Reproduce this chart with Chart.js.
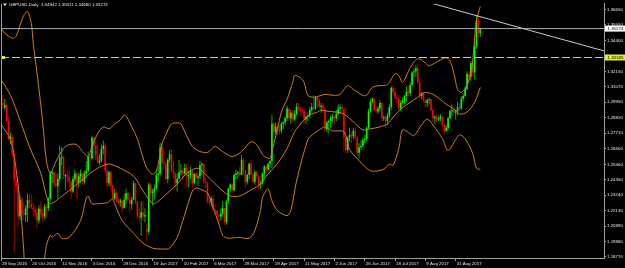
<!DOCTYPE html>
<html>
<head>
<meta charset="utf-8">
<script src="https://cdn.jsdelivr.net/npm/chart.js@4.4.1/dist/chart.umd.min.js"></script>
<style>
  html, body { margin: 0; padding: 0; background: #000; }
  canvas { display: block; }
</style>
</head>
<body>
<canvas id="chart" width="625" height="268"></canvas>
<script>
// GBPUSD daily bars, 28 Sep 2016 .. 19 Sep 2017 (bar index = position in arrays)
const opens = [
  1.3000,1.2990,1.2955,1.2975,1.2860,1.2730,1.2745,1.2620,1.2430,1.2390,
  1.2170,1.2290,1.2190,1.2180,1.2230,1.2290,1.2260,1.2235,1.2220,1.2200,
  1.2140,1.2225,1.2190,1.2170,1.2240,1.2230,1.2300,1.2480,1.2490,1.2410,
  1.2390,1.2440,1.2590,1.2600,1.2460,1.2470,1.2455,1.2420,1.2350,1.2440,
  1.2480,1.2410,1.2460,1.2480,1.2420,1.2480,1.2500,1.2600,1.2590,1.2740,
  1.2680,1.2610,1.2560,1.2570,1.2660,1.2680,1.2500,1.2410,1.2490,1.2390,
  1.2300,1.2340,1.2280,1.2270,1.2285,1.2230,1.2290,1.2340,1.2290,1.2260,
  1.2290,1.2410,1.2280,1.2170,1.2160,1.2200,1.2170,1.2080,1.2060,1.2400,
  1.2340,1.2350,1.2370,1.2470,1.2480,1.2670,1.2560,1.2550,1.2440,1.2580,
  1.2620,1.2500,1.2480,1.2410,1.2440,1.2490,1.2500,1.2480,1.2520,1.2460,
  1.2470,1.2500,1.2410,1.2480,1.2450,1.2460,1.2540,1.2550,1.2420,1.2410,
  1.2280,1.2270,1.2300,1.2220,1.2210,1.2180,1.2170,1.2190,1.2230,1.2130,
  1.2280,1.2370,1.2400,1.2360,1.2470,1.2480,1.2490,1.2470,1.2580,1.2500,
  1.2420,1.2470,1.2550,1.2475,1.2420,1.2490,1.2460,1.2400,1.2410,1.2480,
  1.2530,1.2510,1.2550,1.2570,1.2840,1.2780,1.2820,1.2800,1.2790,1.2840,
  1.2850,1.2880,1.2950,1.2880,1.2920,1.2870,1.2910,1.2960,1.2950,1.2940,
  1.2930,1.2870,1.2890,1.2900,1.2940,1.2960,1.2950,1.3030,1.3010,1.2960,
  1.2970,1.2950,1.2800,1.2850,1.2860,1.2880,1.2890,1.2880,1.2910,1.2950,
  1.2960,1.2950,1.2740,1.2650,1.2740,1.2760,1.2750,1.2790,1.2740,1.2630,
  1.2670,1.2680,1.2720,1.2730,1.2810,1.2930,1.3000,1.3020,1.2940,1.2930,
  1.2950,1.2990,1.2880,1.2885,1.2860,1.2900,1.2960,1.3100,1.3070,1.3030,
  1.3020,1.2950,1.2990,1.3010,1.3040,1.3070,1.3060,1.3120,1.3210,1.3220,
  1.3240,1.3140,1.3040,1.3060,1.3010,1.2990,1.3010,1.3015,1.2940,1.2880,
  1.2890,1.2870,1.2880,1.2890,1.2830,1.2790,1.2810,1.2880,1.2930,1.2940,
  1.2920,1.2930,1.2960,1.2950,1.3020,1.3040,1.3090,1.3200,1.3180,1.3280,
  1.3210,1.3400,1.3590,1.34942
];
const highs = [
  1.3055,1.3050,1.3020,1.2985,1.2880,1.2775,1.2760,1.2630,1.2480,1.2400,
  1.2320,1.2310,1.2270,1.2250,1.2335,1.2335,1.2330,1.2270,1.2255,1.2230,
  1.2250,1.2280,1.2225,1.2260,1.2260,1.2310,1.2500,1.2500,1.2490,1.2480,
  1.2480,1.2680,1.2670,1.2610,1.2480,1.2500,1.2500,1.2430,1.2460,1.2510,
  1.2490,1.2480,1.2510,1.2490,1.2500,1.2570,1.2640,1.2620,1.2750,1.2750,
  1.2720,1.2690,1.2620,1.2690,1.2720,1.2700,1.2540,1.2500,1.2500,1.2400,
  1.2370,1.2350,1.2300,1.2300,1.2290,1.2330,1.2370,1.2350,1.2300,1.2310,
  1.2430,1.2410,1.2280,1.2230,1.2280,1.2280,1.2230,1.2120,1.2415,1.2410,
  1.2370,1.2400,1.2490,1.2530,1.2700,1.2700,1.2600,1.2570,1.2590,1.2650,
  1.2650,1.2570,1.2490,1.2480,1.2580,1.2550,1.2520,1.2550,1.2550,1.2500,
  1.2530,1.2500,1.2480,1.2490,1.2480,1.2570,1.2560,1.2550,1.2450,1.2420,
  1.2310,1.2320,1.2320,1.2260,1.2220,1.2190,1.2230,1.2280,1.2230,1.2290,
  1.2380,1.2410,1.2400,1.2480,1.2510,1.2500,1.2530,1.2615,1.2590,1.2510,
  1.2480,1.2560,1.2580,1.2480,1.2510,1.2500,1.2470,1.2430,1.2490,1.2540,
  1.2540,1.2560,1.2580,1.2905,1.2850,1.2850,1.2840,1.2830,1.2850,1.2860,
  1.2890,1.2970,1.2950,1.2940,1.2940,1.2940,1.2990,1.2990,1.2960,1.2960,
  1.2950,1.2900,1.2920,1.2960,1.2990,1.3050,1.3040,1.3040,1.3020,1.2990,
  1.2990,1.2950,1.2860,1.2870,1.2900,1.2910,1.2900,1.2940,1.2980,1.2980,
  1.2980,1.2950,1.2750,1.2750,1.2810,1.2780,1.2810,1.2810,1.2750,1.2700,
  1.2720,1.2740,1.2760,1.2820,1.2950,1.3020,1.3030,1.3030,1.2960,1.2970,
  1.3010,1.2990,1.2900,1.2900,1.2920,1.2980,1.3110,1.3120,1.3100,1.3050,
  1.3050,1.3010,1.3030,1.3050,1.3110,1.3110,1.3140,1.3220,1.3240,1.3260,
  1.3270,1.3160,1.3070,1.3070,1.3020,1.3020,1.3030,1.3020,1.2950,1.2900,
  1.2910,1.2900,1.2910,1.2900,1.2840,1.2830,1.2890,1.2940,1.2980,1.2950,
  1.2940,1.3000,1.2990,1.3040,1.3060,1.3110,1.3220,1.3220,1.3290,1.3290,
  1.3440,1.3616,1.3610,1.35311
];
const lows = [
  1.2960,1.2950,1.2940,1.2850,1.2720,1.2690,1.2600,1.1910,1.2350,1.2090,
  1.2140,1.2140,1.2140,1.2130,1.2130,1.2230,1.2220,1.2170,1.2180,1.2085,
  1.2120,1.2160,1.2130,1.2150,1.2160,1.2210,1.2280,1.2410,1.2380,1.2380,
  1.2300,1.2420,1.2540,1.2440,1.2360,1.2410,1.2380,1.2300,1.2340,1.2420,
  1.2300,1.2380,1.2410,1.2400,1.2400,1.2450,1.2490,1.2530,1.2580,1.2650,
  1.2580,1.2550,1.2540,1.2560,1.2620,1.2490,1.2370,1.2390,1.2360,1.2290,
  1.2290,1.2270,1.2250,1.2240,1.2200,1.2230,1.2260,1.2280,1.2200,1.2220,
  1.2290,1.2260,1.2150,1.2130,1.2030,1.2140,1.2130,1.1990,1.2040,1.2270,
  1.2250,1.2290,1.2360,1.2420,1.2470,1.2550,1.2510,1.2430,1.2410,1.2560,
  1.2490,1.2440,1.2380,1.2350,1.2440,1.2470,1.2430,1.2460,1.2380,1.2380,
  1.2440,1.2380,1.2400,1.2440,1.2390,1.2440,1.2470,1.2400,1.2380,1.2260,
  1.2250,1.2240,1.2220,1.2190,1.2150,1.2130,1.2140,1.2170,1.2110,1.2110,
  1.2260,1.2350,1.2340,1.2350,1.2440,1.2440,1.2460,1.2470,1.2480,1.2380,
  1.2400,1.2440,1.2470,1.2410,1.2400,1.2440,1.2360,1.2370,1.2400,1.2450,
  1.2480,1.2500,1.2530,1.2520,1.2760,1.2760,1.2760,1.2760,1.2770,1.2800,
  1.2830,1.2860,1.2860,1.2840,1.2850,1.2860,1.2900,1.2930,1.2900,1.2920,
  1.2840,1.2840,1.2860,1.2880,1.2920,1.2940,1.2940,1.2960,1.2950,1.2920,
  1.2930,1.2790,1.2780,1.2770,1.2810,1.2850,1.2840,1.2860,1.2900,1.2910,
  1.2900,1.2640,1.2630,1.2630,1.2710,1.2700,1.2730,1.2730,1.2610,1.2590,
  1.2650,1.2670,1.2700,1.2710,1.2800,1.2920,1.2990,1.2930,1.2920,1.2910,
  1.2930,1.2860,1.2860,1.2810,1.2830,1.2880,1.2940,1.3050,1.3020,1.2990,
  1.2940,1.2930,1.2980,1.2980,1.3000,1.3040,1.3040,1.3110,1.3180,1.3180,
  1.3130,1.3020,1.3020,1.2990,1.2960,1.2960,1.2980,1.2930,1.2850,1.2840,
  1.2850,1.2860,1.2860,1.2820,1.2770,1.2780,1.2790,1.2870,1.2900,1.2900,
  1.2870,1.2900,1.2930,1.2940,1.3000,1.3030,1.3080,1.3140,1.3150,1.3180,
  1.3160,1.3380,1.3460,1.34680
];
const closes = [
  1.2990,1.2975,1.2975,1.2860,1.2730,1.2745,1.2620,1.2430,1.2390,1.2170,
  1.2290,1.2190,1.2180,1.2230,1.2290,1.2260,1.2235,1.2220,1.2200,1.2140,
  1.2225,1.2190,1.2170,1.2240,1.2230,1.2300,1.2480,1.2490,1.2410,1.2390,
  1.2440,1.2590,1.2600,1.2470,1.2470,1.2455,1.2420,1.2350,1.2440,1.2480,
  1.2410,1.2460,1.2480,1.2420,1.2480,1.2500,1.2600,1.2590,1.2740,1.2680,
  1.2610,1.2560,1.2570,1.2660,1.2680,1.2500,1.2410,1.2490,1.2390,1.2300,
  1.2340,1.2280,1.2270,1.2285,1.2230,1.2290,1.2340,1.2290,1.2260,1.2290,
  1.2410,1.2280,1.2170,1.2160,1.2200,1.2170,1.2180,1.2060,1.2400,1.2340,
  1.2350,1.2370,1.2470,1.2480,1.2670,1.2560,1.2550,1.2440,1.2580,1.2620,
  1.2500,1.2480,1.2410,1.2440,1.2490,1.2500,1.2480,1.2520,1.2460,1.2470,
  1.2500,1.2410,1.2480,1.2450,1.2460,1.2540,1.2550,1.2420,1.2410,1.2280,
  1.2270,1.2300,1.2220,1.2210,1.2180,1.2170,1.2190,1.2230,1.2130,1.2280,
  1.2370,1.2400,1.2360,1.2470,1.2480,1.2490,1.2470,1.2580,1.2500,1.2420,
  1.2470,1.2550,1.2475,1.2420,1.2490,1.2460,1.2400,1.2410,1.2480,1.2530,
  1.2510,1.2550,1.2570,1.2840,1.2780,1.2820,1.2800,1.2790,1.2840,1.2850,
  1.2880,1.2950,1.2880,1.2920,1.2870,1.2910,1.2960,1.2950,1.2940,1.2930,
  1.2870,1.2890,1.2900,1.2940,1.2960,1.2950,1.3030,1.3010,1.2960,1.2970,
  1.2950,1.2800,1.2850,1.2860,1.2880,1.2890,1.2880,1.2910,1.2950,1.2960,
  1.2950,1.2740,1.2650,1.2740,1.2760,1.2750,1.2790,1.2740,1.2630,1.2670,
  1.2680,1.2720,1.2730,1.2810,1.2930,1.3000,1.3020,1.2940,1.2930,1.2950,
  1.2990,1.2880,1.2885,1.2860,1.2900,1.2960,1.3100,1.3070,1.3030,1.3020,
  1.2950,1.2990,1.3010,1.3040,1.3070,1.3060,1.3120,1.3210,1.3220,1.3240,
  1.3140,1.3040,1.3060,1.3010,1.2990,1.3010,1.3015,1.2940,1.2880,1.2890,
  1.2870,1.2880,1.2890,1.2830,1.2790,1.2810,1.2880,1.2930,1.2940,1.2920,
  1.2930,1.2960,1.2950,1.3020,1.3040,1.3090,1.3200,1.3180,1.3280,1.3210,
  1.3400,1.3590,1.3494,1.35274
];

// band readings [bar index, price]
const upperBand = [
  [0,1.3530],[2,1.3494],[6,1.3458],[8,1.3473],[10,1.3551],[12,1.3622],[14,1.3651],[16,1.3565],
  [17,1.3423],[19,1.3209],[22,1.2853],[24,1.2568],[26,1.2482],[29,1.2568],[33,1.2661],[36,1.2689],
  [40,1.2689],[43,1.2639],[46,1.2603],[48,1.2675],[51,1.2767],[54,1.2817],[57,1.2803],[60,1.2839],
  [63,1.2867],[65,1.2903],[67,1.2874],[69,1.2817],[72,1.2732],[74,1.2639],[77,1.2518],[80,1.2475],
  [82,1.2497],[84,1.2618],[85,1.2696],[87,1.2760],[90,1.2839],[93,1.2846],[95,1.2839],[97,1.2782],
  [101,1.2675],[103,1.2654],[105,1.2639],[109,1.2632],[113,1.2675],[117,1.2639],[122,1.2603],[127,1.2639],
  [132,1.2710],[135,1.2689],[138,1.2618],[139,1.2603],[142,1.2589],[143,1.2639],[146,1.2803],[148,1.2924],
  [151,1.3017],[154,1.3138],[155,1.3188],[158,1.3173],[160,1.3138],[162,1.3045],[165,1.3031],[169,1.3045],
  [171,1.3052],[176,1.3045],[179,1.3052],[183,1.3116],[186,1.3088],[191,1.3045],[193,1.3045],[196,1.3102],
  [200,1.3116],[203,1.3116],[205,1.3138],[208,1.3202],[210,1.3188],[212,1.3138],[216,1.3245],[219,1.3302],
  [221,1.3309],[224,1.3280],[226,1.3259],[232,1.3302],[235,1.3316],[237,1.3294],[239,1.3209],[241,1.3088],
  [243,1.3066],[246,1.3116],[248,1.3209],[249,1.3294],[250,1.3458],[251,1.3587],[253,1.3687]
];
const middleBand = [
  [0,1.3159],[5,1.3045],[10,1.2867],[15,1.2675],[21,1.2482],[24,1.2318],[26,1.2262],[29,1.2283],
  [31,1.2304],[37,1.2368],[44,1.2447],[51,1.2518],[56,1.2547],[58,1.2547],[63,1.2518],[70,1.2461],
  [75,1.2354],[80,1.2262],[82,1.2269],[88,1.2340],[93,1.2404],[98,1.2482],[103,1.2518],[105,1.2511],
  [110,1.2447],[116,1.2368],[121,1.2318],[126,1.2318],[131,1.2354],[137,1.2404],[140,1.2461],[146,1.2554],
  [151,1.2661],[155,1.2782],[159,1.2853],[163,1.2903],[167,1.2924],[169,1.2938],[172,1.2931],[177,1.2924],
  [181,1.2910],[186,1.2853],[191,1.2796],[195,1.2803],[200,1.2817],[204,1.2839],[207,1.2888],[211,1.2945],
  [216,1.2995],[220,1.3031],[224,1.3066],[229,1.3045],[235,1.2981],[240,1.2938],[242,1.2910],[246,1.2924],
  [250,1.2995],[253,1.3102]
];
const lowerBand = [
  [0,1.2838],[5,1.2725],[7,1.2603],[10,1.2283],[12,1.1927],[13,1.1749],[17,1.1677],[20,1.1713],
  [23,1.1870],[24,1.1962],[26,1.2034],[27,1.2019],[30,1.2048],[32,1.2012],[36,1.2019],[42,1.2140],
  [45,1.2304],[46,1.2318],[48,1.2262],[51,1.2262],[56,1.2269],[59,1.2297],[60,1.2262],[64,1.2140],
  [70,1.2048],[75,1.1977],[80,1.1941],[86,1.1934],[89,1.1941],[93,1.2019],[96,1.2140],[101,1.2354],
  [103,1.2376],[105,1.2368],[109,1.2340],[112,1.2233],[115,1.2119],[117,1.2034],[120,1.2012],[125,1.2019],
  [131,1.2012],[134,1.2069],[137,1.2212],[138,1.2304],[141,1.2368],[143,1.2283],[146,1.2212],[151,1.2176],
  [153,1.2212],[156,1.2425],[162,1.2725],[165,1.2767],[168,1.2796],[171,1.2817],[175,1.2789],[181,1.2782],
  [184,1.2654],[188,1.2589],[193,1.2518],[196,1.2497],[202,1.2511],[205,1.2547],[207,1.2540],[210,1.2661],
  [212,1.2796],[216,1.2767],[218,1.2753],[222,1.2831],[225,1.2873],[228,1.2831],[233,1.2732],[236,1.2646],
  [240,1.2725],[242,1.2760],[245,1.2732],[249,1.2625],[251,1.2518],[253,1.2511]
];

const dateLabels = ['28 Sep 2016','20 Oct 2016','11 Nov 2016','5 Dec 2016','28 Dec 2016','19 Jan 2017',
  '10 Feb 2017','6 Mar 2017','28 Mar 2017','19 Apr 2017','11 May 2017','2 Jun 2017','26 Jun 2017',
  '18 Jul 2017','9 Aug 2017','31 Aug 2017'];
const dateBars = [0,16,32,48,64,80,96,112,128,144,160,176,192,208,224,240];
const priceTicks = [1.36650,1.35550,1.34400,1.32150,1.31070,1.29950,1.28820,1.27710,1.26600,
  1.25460,1.24350,1.23240,1.22130,1.20990,1.19880,1.18770];

const bidPrice = 1.35274;
const levelPrice = 1.33185;
const trendLine = [[228, 1.3708], [318.3, 1.3366]];
const titleText = 'GBPUSD,Daily  1.34942 1.35311 1.34680 1.35274';

const X_MIN = 0, X_MAX = 318.3;
const Y_MIN = 1.18697, Y_MAX = 1.37077;

const upBody = '#00FF00', downBody = '#FF0000';
const upWick = '#00B400', downWick = '#B00000';
const bandColor = '#CC7D22';
const axisColor = '#A0A0A0';
const textColor = '#E6E6E6';
const FONT = 'Liberation Sans';

const isUp = closes.map((c, i) => c >= opens[i]);
const toXY = arr => arr.map(p => ({ x: p[0], y: p[1] }));

// extra drawing: borders, title, price boxes, level marker
const overlay = {
  id: 'overlay',
  afterDraw(chart) {
    const ctx = chart.ctx;
    const area = chart.chartArea;
    const ys = chart.scales.y;
    ctx.save();
    // left border
    ctx.strokeStyle = axisColor;
    ctx.lineWidth = 1;
    ctx.beginPath();
    ctx.moveTo(area.left + 0.5, area.top);
    ctx.lineTo(area.left + 0.5, area.bottom);
    ctx.stroke();

    // small marker at level line start
    const ly = ys.getPixelForValue(levelPrice);
    ctx.fillStyle = '#E8E830';
    ctx.fillRect(area.left + 1, ly - 1.5, 3, 3);

    // price boxes on the axis
    const box = (price, bg) => {
      const py = ys.getPixelForValue(price);
      ctx.fillStyle = bg;
      ctx.fillRect(area.right + 1, py - 3, 625 - area.right - 1, 6);
      ctx.fillStyle = '#000';
      ctx.font = '4.4px "' + FONT + '"';
      ctx.textBaseline = 'middle';
      ctx.textAlign = 'left';
      ctx.fillText(price.toFixed(5), area.right + 3.5, py + 0.3);
    };
    box(bidPrice, '#FFFFFF');
    box(levelPrice, '#E8E830');

    // title with triangle
    ctx.fillStyle = textColor;
    ctx.beginPath();
    ctx.moveTo(3, 3.5);
    ctx.lineTo(7, 3.5);
    ctx.lineTo(5, 6);
    ctx.closePath();
    ctx.fill();
    ctx.font = '4.4px "' + FONT + '"';
    ctx.textBaseline = 'middle';
    ctx.textAlign = 'left';
    ctx.fillText(titleText, 9, 5);
    ctx.restore();
  }
};

new Chart(document.getElementById('chart'), {
  type: 'bar',
  data: {
    datasets: [
      {
        label: 'wicks',
        data: highs.map((h, i) => ({ x: i, y: [lows[i], h] })),
        backgroundColor: isUp.map(u => u ? upWick : downWick),
        barThickness: 1,
        grouped: false,
        inflateAmount: 0,
        order: 6
      },
      {
        label: 'bodies',
        data: opens.map((o, i) => ({ x: i, y: [o, closes[i]] })),
        backgroundColor: isUp.map(u => u ? upBody : downBody),
        barThickness: 1.6,
        minBarLength: 1,
        grouped: false,
        inflateAmount: 0,
        order: 5
      },
      {
        type: 'line', label: 'upper', data: toXY(upperBand),
        borderColor: bandColor, borderWidth: 1, pointRadius: 0, tension: 0.3, order: 3
      },
      {
        type: 'line', label: 'middle', data: toXY(middleBand),
        borderColor: bandColor, borderWidth: 1, pointRadius: 0, tension: 0.3, order: 3
      },
      {
        type: 'line', label: 'lower', data: toXY(lowerBand),
        borderColor: bandColor, borderWidth: 1, pointRadius: 0, tension: 0.3, order: 3
      },
      {
        type: 'line', label: 'bid', data: [{ x: X_MIN, y: bidPrice }, { x: X_MAX, y: bidPrice }],
        borderColor: '#A8A8B0', borderWidth: 1, pointRadius: 0, order: 2
      },
      {
        type: 'line', label: 'level', data: [{ x: X_MIN, y: levelPrice }, { x: X_MAX, y: levelPrice }],
        borderColor: '#D8D82A', borderWidth: 1, borderDash: [8, 3], pointRadius: 0, order: 2
      },
      {
        type: 'line', label: 'trend', data: toXY(trendLine),
        borderColor: '#C8C8D0', borderWidth: 1, pointRadius: 0, order: 1
      }
    ]
  },
  options: {
    responsive: false,
    devicePixelRatio: 1,
    animation: false,
    events: [],
    layout: { padding: { left: 1, top: 0, right: 0, bottom: 0 } },
    plugins: { legend: { display: false }, tooltip: { enabled: false } },
    scales: {
      x: {
        type: 'linear',
        min: X_MIN,
        max: X_MAX,
        offset: false,
        grid: { display: true, drawOnChartArea: false, drawTicks: true, tickLength: 3, color: axisColor, offset: false },
        border: { display: true, color: axisColor },
        afterBuildTicks: s => { s.ticks = dateBars.map(v => ({ value: v })); },
        afterFit: s => { s.height = 10; },
        ticks: {
          autoSkip: false,
          maxRotation: 0,
          align: 'start',
          labelOffset: 1,
          padding: 0,
          color: textColor,
          font: { family: FONT, size: 4.4 },
          callback: v => dateLabels[dateBars.indexOf(v)]
        }
      },
      y: {
        type: 'linear',
        position: 'right',
        min: Y_MIN,
        max: Y_MAX,
        grid: { display: true, drawOnChartArea: false, drawTicks: true, tickLength: 2, color: axisColor },
        border: { display: true, color: axisColor },
        afterBuildTicks: s => { s.ticks = priceTicks.map(v => ({ value: v })); },
        afterFit: s => { s.width = 21; },
        ticks: {
          autoSkip: false,
          padding: 1,
          color: textColor,
          font: { family: FONT, size: 4.4 },
          callback: v => v.toFixed(5)
        }
      }
    }
  },
  plugins: [overlay]
});
</script>
</body>
</html>
